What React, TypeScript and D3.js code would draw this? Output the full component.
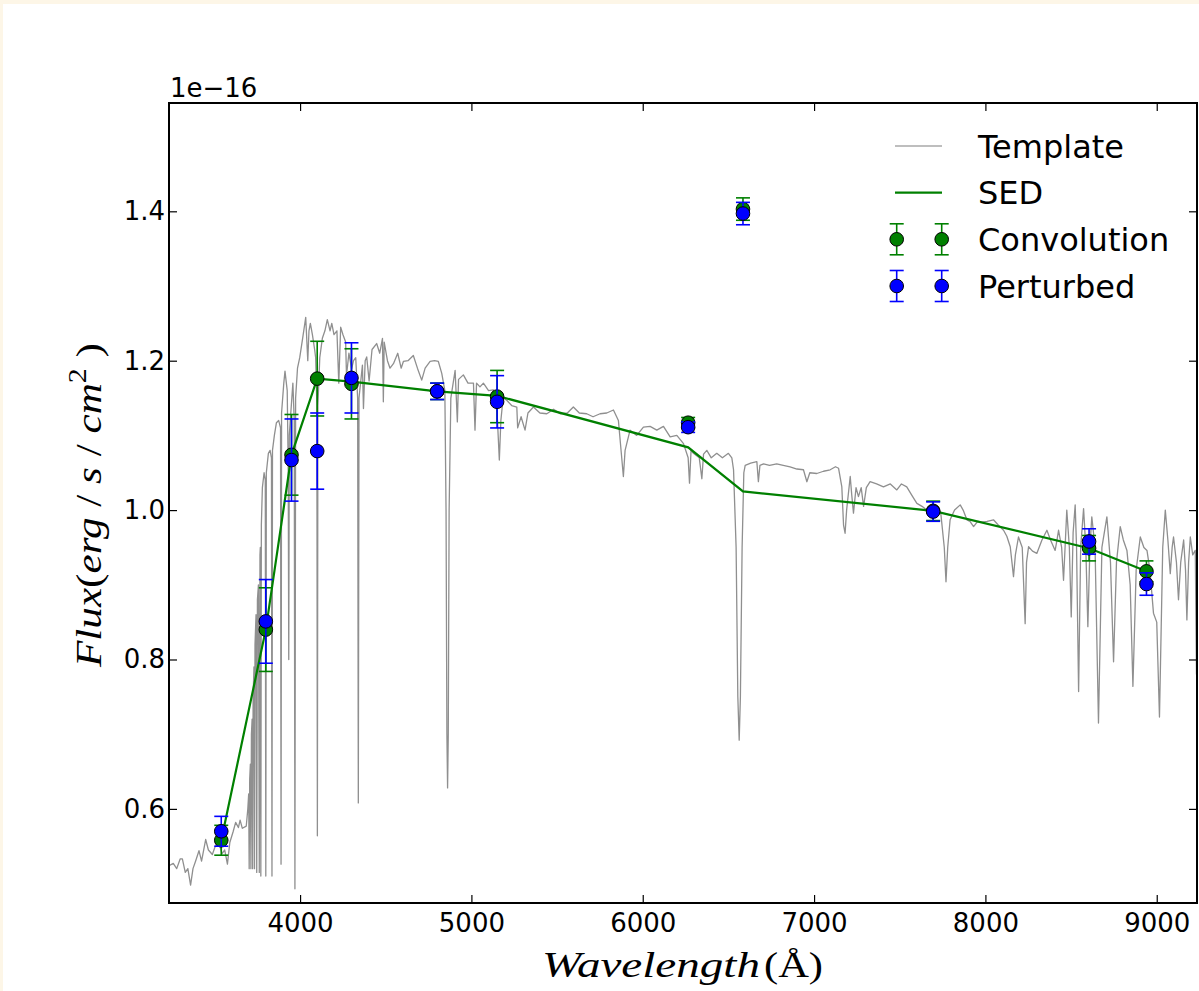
import { useEffect, useRef } from "react";
import * as d3 from "d3";

// template spectrum: [wavelength (Å), flux (1e-16)]
const template: [number, number][] = [
  [3235, 0.524], [3260, 0.527], [3280, 0.52], [3300, 0.533], [3313, 0.533], [3330, 0.515],
  [3345, 0.52], [3361, 0.498], [3375, 0.52], [3390, 0.53], [3410, 0.544], [3425, 0.53],
  [3449, 0.559], [3465, 0.545], [3488, 0.539], [3505, 0.55], [3527, 0.554], [3545, 0.54],
  [3560, 0.545], [3576, 0.526], [3590, 0.555], [3610, 0.57], [3624, 0.582], [3640, 0.575],
  [3650, 0.585], [3663, 0.574], [3686, 0.577], [3695, 0.6],
  [3700, 0.62], [3703, 0.52], [3706, 0.64], [3710, 0.66], [3713, 0.52], [3716, 0.7],
  [3720, 0.72], [3723, 0.52], [3726, 0.75], [3731, 0.79], [3734, 0.52], [3737, 0.82],
  [3743, 0.86], [3747, 0.515], [3751, 0.88], [3757, 0.9], [3762, 0.515], [3766, 0.94],
  [3768, 0.95], [3771, 0.51], [3774, 0.98], [3780, 1.03], [3790, 1.05], [3797, 1.04],
  [3800, 0.51], [3803, 1.05], [3815, 1.076], [3825, 1.08], [3833, 1.07], [3836, 0.51],
  [3839, 1.08], [3850, 1.1], [3862, 1.117], [3875, 1.12], [3886, 1.11], [3889, 0.526],
  [3892, 1.13], [3905, 1.17], [3912, 1.186], [3925, 1.16], [3931, 1.05], [3934, 0.8],
  [3937, 1.1], [3945, 1.127], [3958, 1.17], [3966, 1.12], [3970, 0.493], [3974, 1.15],
  [3985, 1.19], [3998, 1.204], [4015, 1.23], [4033, 1.258], [4045, 1.2], [4052, 1.24],
  [4060, 1.25], [4072, 1.235], [4085, 1.215], [4091, 1.204], [4098, 1.14], [4101, 0.564],
  [4104, 1.14], [4115, 1.204], [4130, 1.23], [4145, 1.24], [4159, 1.255], [4175, 1.24],
  [4185, 1.25], [4198, 1.235], [4215, 1.24], [4226, 1.17], [4237, 1.245], [4250, 1.235],
  [4266, 1.225], [4271, 1.18], [4285, 1.21], [4301, 1.189], [4312, 1.2], [4325, 1.204],
  [4336, 1.15], [4340, 0.608], [4344, 1.15], [4364, 1.194], [4370, 1.136], [4380, 1.2],
  [4389, 1.205], [4403, 1.173], [4420, 1.215], [4447, 1.223], [4465, 1.21], [4481, 1.23],
  [4486, 1.145], [4491, 1.225], [4510, 1.2], [4525, 1.19], [4545, 1.196], [4570, 1.21],
  [4590, 1.19], [4603, 1.199], [4630, 1.2], [4661, 1.207], [4685, 1.19], [4710, 1.174],
  [4730, 1.19], [4759, 1.199], [4785, 1.2], [4807, 1.199], [4827, 1.183], [4845, 1.16],
  [4852, 1.0], [4857, 0.7], [4861, 0.628], [4865, 0.7], [4870, 1.0], [4880, 1.15],
  [4905, 1.187], [4918, 1.118], [4925, 1.175], [4953, 1.181], [4980, 1.17], [5012, 1.17],
  [5021, 1.107], [5030, 1.17], [5050, 1.165], [5070, 1.17], [5100, 1.16], [5128, 1.161],
  [5150, 1.13], [5163, 1.067], [5172, 1.12], [5185, 1.15], [5206, 1.147], [5235, 1.14],
  [5265, 1.138], [5270, 1.11], [5290, 1.125], [5313, 1.107], [5330, 1.13], [5362, 1.138],
  [5400, 1.13], [5440, 1.129], [5480, 1.135], [5518, 1.129], [5560, 1.13], [5595, 1.138],
  [5630, 1.13], [5673, 1.129], [5710, 1.125], [5751, 1.129], [5790, 1.13], [5829, 1.134],
  [5858, 1.12], [5887, 1.045], [5897, 1.08], [5926, 1.107], [5965, 1.1], [6004, 1.111],
  [6043, 1.112], [6082, 1.107], [6121, 1.112], [6160, 1.098], [6199, 1.1], [6238, 1.089],
  [6265, 1.07], [6273, 1.036], [6282, 1.08], [6296, 1.076], [6330, 1.07], [6345, 1.042],
  [6355, 1.075], [6374, 1.08], [6400, 1.07], [6432, 1.076], [6465, 1.07], [6500, 1.076],
  [6520, 1.07], [6530, 1.054], [6545, 0.95], [6555, 0.75], [6563, 0.692], [6570, 0.75],
  [6580, 0.95], [6590, 1.05], [6598, 1.06], [6630, 1.063], [6666, 1.065], [6675, 1.038],
  [6684, 1.06], [6705, 1.062], [6740, 1.06], [6782, 1.062], [6820, 1.06], [6860, 1.058],
  [6900, 1.055], [6938, 1.054], [6958, 1.038], [6975, 1.05], [7016, 1.049], [7055, 1.052],
  [7094, 1.054], [7125, 1.058], [7143, 1.056], [7162, 1.031], [7172, 0.98], [7181, 0.969],
  [7190, 1.0], [7211, 1.045], [7220, 1.02], [7230, 0.996], [7245, 1.03], [7259, 1.018],
  [7275, 1.03], [7289, 1.005], [7305, 1.03], [7327, 1.038], [7365, 1.035], [7405, 1.031],
  [7445, 1.035], [7483, 1.027], [7510, 1.035], [7541, 1.031], [7570, 1.02], [7600, 1.009],
  [7630, 1.005], [7658, 1.0], [7690, 0.998], [7717, 0.996], [7740, 0.995], [7760, 0.95],
  [7770, 0.904], [7780, 0.95], [7794, 0.987], [7820, 1.0], [7853, 1.007], [7870, 1.0],
  [7892, 0.987], [7910, 0.985], [7931, 0.978], [7955, 0.985], [7979, 0.984], [8010, 0.985],
  [8047, 0.987], [8075, 0.98], [8106, 0.973], [8125, 0.965], [8145, 0.951], [8155, 0.93],
  [8164, 0.911], [8175, 0.94], [8193, 0.964], [8215, 0.95], [8232, 0.848], [8240, 0.93],
  [8252, 0.951], [8275, 0.945], [8300, 0.942], [8330, 0.96], [8359, 0.973], [8380, 0.96],
  [8407, 0.946], [8418, 0.96], [8427, 0.973], [8445, 0.95], [8456, 0.906], [8465, 0.95],
  [8475, 1.0], [8490, 0.95], [8501, 0.857], [8512, 0.97], [8524, 1.007], [8532, 0.95],
  [8544, 0.757], [8556, 0.95], [8573, 1.002], [8586, 0.95], [8598, 0.844], [8610, 0.95],
  [8621, 0.991], [8640, 0.95], [8660, 0.715], [8680, 0.95], [8709, 0.991], [8730, 0.93],
  [8748, 0.797], [8765, 0.93], [8787, 0.978], [8805, 0.96], [8826, 0.946], [8845, 0.9],
  [8861, 0.764], [8880, 0.92], [8904, 0.964], [8925, 0.95], [8943, 0.946], [8960, 0.92],
  [8981, 0.862], [9000, 0.85], [9016, 0.723], [9035, 0.95], [9050, 1.0], [9065, 0.96],
  [9079, 0.915], [9090, 0.95], [9098, 0.964], [9115, 0.93], [9127, 0.88], [9140, 0.93],
  [9157, 0.96], [9168, 0.92], [9176, 0.853], [9186, 0.93], [9196, 0.964], [9210, 0.94],
  [9225, 0.946], [9232, 0.78],
];

// photometric points
const filterWave = [3540, 3800, 3950, 4100, 4300, 4800, 5150, 6265, 6585, 7695, 8605, 8940];
const sedFlux = [0.558, 0.84, 1.074, 1.176, 1.172, 1.159, 1.153, 1.084, 1.025, 0.999, 0.949, 0.918];
const convFlux = [0.558, 0.84, 1.074, 1.176, 1.169, 1.159, 1.152, 1.117, 1.403, 0.999, 0.949, 0.918];
const convErr = [0.02, 0.056, 0.054, 0.05, 0.047, 0.011, 0.035, 0.007, 0.015, 0.013, 0.017, 0.014];
const pertFlux = [0.57, 0.851, 1.067, 1.079, 1.177, 1.159, 1.145, 1.111, 1.397, 0.998, 0.958, 0.901];
const pertErr = [0.02, 0.056, 0.055, 0.051, 0.047, 0.011, 0.035, 0.007, 0.015, 0.013, 0.017, 0.015];

const xTicks = [4000, 5000, 6000, 7000, 8000, 9000];
const yTicks = [0.6, 0.8, 1.0, 1.2, 1.4];
const legendLabels = ["Template", "SED", "Convolution", "Perturbed"];

function SedChart() {
  const ref = useRef<SVGSVGElement>(null);
  const width = 1199;
  const height = 991;
  const plot = { left: 169, right: 1197, top: 103, bottom: 903 };

  useEffect(() => {
    const svg = d3.select(ref.current);
    svg.selectAll("*").remove();

    const sans = "'DejaVu Sans', sans-serif";
    const serif = "'Liberation Serif', 'DejaVu Serif', serif";
    const green = "#008000";
    const blue = "#0000ff";
    const gray = "#8f8f8f";

    svg.append("rect").attr("width", width).attr("height", height).attr("fill", "#fdf6e7");
    svg.append("rect").attr("x", 3).attr("y", 4).attr("width", width).attr("height", height).attr("fill", "#fff");

    const x = d3.scaleLinear().domain([3235, 9235]).range([plot.left, plot.right]);
    const y = d3.scaleLinear().domain([0.474, 1.545]).range([plot.bottom, plot.top]);

    svg.append("clipPath").attr("id", "plot-area")
      .append("rect")
      .attr("x", plot.left).attr("y", plot.top)
      .attr("width", plot.right - plot.left).attr("height", plot.bottom - plot.top);

    const inner = svg.append("g").attr("clip-path", "url(#plot-area)");

    const line = d3.line<[number, number]>().x(d => x(d[0])).y(d => y(d[1]));

    inner.append("path")
      .datum(template)
      .attr("d", line)
      .attr("fill", "none")
      .attr("stroke", gray)
      .attr("stroke-width", 1.3)
      .attr("stroke-linejoin", "round");

    const sed = filterWave.map((w, i) => [w, sedFlux[i]] as [number, number]);
    inner.append("path")
      .datum(sed)
      .attr("d", line)
      .attr("fill", "none")
      .attr("stroke", green)
      .attr("stroke-width", 2.2);

    const drawErrorbars = (vals: number[], errs: number[], color: string) => {
      const pts = filterWave.map((w, i) => ({ w, v: vals[i], e: errs[i] }));
      const grp = inner.append("g");
      const bars = grp.selectAll("g").data(pts).join("g");
      bars.append("line")
        .attr("x1", d => x(d.w)).attr("x2", d => x(d.w))
        .attr("y1", d => y(d.v - d.e)).attr("y2", d => y(d.v + d.e))
        .attr("stroke", color).attr("stroke-width", 1.6);
      [-1, 1].forEach(s => {
        bars.append("line")
          .attr("x1", d => x(d.w) - 7).attr("x2", d => x(d.w) + 7)
          .attr("y1", d => y(d.v + s * d.e)).attr("y2", d => y(d.v + s * d.e))
          .attr("stroke", color).attr("stroke-width", 1.6);
      });
      grp.selectAll("circle").data(pts).join("circle")
        .attr("cx", d => x(d.w)).attr("cy", d => y(d.v))
        .attr("r", 6.8)
        .attr("fill", color).attr("stroke", "#000").attr("stroke-width", 1);
    };
    drawErrorbars(convFlux, convErr, green);
    drawErrorbars(pertFlux, pertErr, blue);

    // axes, ticks pointing inward on all four sides
    const styleAxis = (g: d3.Selection<SVGGElement, unknown, null, undefined>) => {
      g.select(".domain").remove();
      g.attr("font-size", 26).attr("font-family", sans);
      g.selectAll(".tick line").attr("stroke", "#000").attr("stroke-width", 1.2);
      g.selectAll(".tick text").attr("fill", "#000");
    };

    svg.append("g").attr("transform", `translate(0,${plot.bottom})`)
      .call(d3.axisBottom(x).tickValues(xTicks).tickSizeInner(-8).tickSizeOuter(0).tickPadding(11).tickFormat(d3.format("d")))
      .call(styleAxis);
    svg.append("g").attr("transform", `translate(0,${plot.top})`)
      .call(d3.axisTop(x).tickValues(xTicks).tickSizeInner(-8).tickSizeOuter(0).tickFormat(() => ""))
      .call(styleAxis);
    svg.append("g").attr("transform", `translate(${plot.left},0)`)
      .call(d3.axisLeft(y).tickValues(yTicks).tickSizeInner(-8).tickSizeOuter(0).tickPadding(4).tickFormat(d3.format(".1f")))
      .call(styleAxis);
    svg.append("g").attr("transform", `translate(${plot.right},0)`)
      .call(d3.axisRight(y).tickValues(yTicks).tickSizeInner(-8).tickSizeOuter(0).tickFormat(() => ""))
      .call(styleAxis);

    svg.append("rect")
      .attr("x", plot.left).attr("y", plot.top)
      .attr("width", plot.right - plot.left).attr("height", plot.bottom - plot.top)
      .attr("fill", "none").attr("stroke", "#000").attr("stroke-width", 2);

    svg.append("text")
      .attr("x", plot.left + 1).attr("y", 97)
      .attr("font-family", sans).attr("font-size", 26)
      .text("1e\u221216");

    // axis labels
    svg.append("text")
      .attr("x", 542).attr("y", 977)
      .attr("font-family", serif).attr("font-style", "italic").attr("font-size", 36)
      .attr("textLength", 218).attr("lengthAdjust", "spacingAndGlyphs")
      .text("Wavelength");
    svg.append("text")
      .attr("x", 764).attr("y", 977)
      .attr("font-family", serif).attr("font-size", 36)
      .attr("textLength", 59).attr("lengthAdjust", "spacingAndGlyphs")
      .text("(Å)");

    const ylab = svg.append("text")
      .attr("transform", "translate(101,667) rotate(-90)")
      .attr("font-family", serif).attr("font-size", 36)
      .attr("textLength", 324).attr("lengthAdjust", "spacingAndGlyphs");
    ylab.append("tspan").attr("font-style", "italic").text("Flux");
    ylab.append("tspan").text("(");
    ylab.append("tspan").attr("font-style", "italic").text("erg");
    ylab.append("tspan").text(" / ");
    ylab.append("tspan").attr("font-style", "italic").text("s");
    ylab.append("tspan").text(" / ");
    ylab.append("tspan").attr("font-style", "italic").text("cm");
    ylab.append("tspan").attr("font-size", 25).attr("dy", -15).text("2");
    ylab.append("tspan").attr("dy", 15).text(" )");

    // legend
    const legend = svg.append("g").attr("font-family", sans).attr("font-size", 32);
    const rowY = [146, 192.7, 239.3, 286];
    legend.append("line")
      .attr("x1", 895).attr("x2", 942).attr("y1", rowY[0]).attr("y2", rowY[0])
      .attr("stroke", "#a8a8a8").attr("stroke-width", 1.3);
    legend.append("line")
      .attr("x1", 895).attr("x2", 942).attr("y1", rowY[1]).attr("y2", rowY[1])
      .attr("stroke", green).attr("stroke-width", 2.2);
    [[rowY[2], green], [rowY[3], blue]].forEach(([ry, color]) => {
      [896.7, 941.7].forEach(cx => {
        const cy = ry as number;
        const c = color as string;
        legend.append("line").attr("x1", cx).attr("x2", cx).attr("y1", cy - 15.5).attr("y2", cy + 15.5)
          .attr("stroke", c).attr("stroke-width", 1.6);
        [-15.5, 15.5].forEach(o => {
          legend.append("line").attr("x1", cx - 7).attr("x2", cx + 7).attr("y1", cy + o).attr("y2", cy + o)
            .attr("stroke", c).attr("stroke-width", 1.6);
        });
        legend.append("circle").attr("cx", cx).attr("cy", cy).attr("r", 6.8)
          .attr("fill", c).attr("stroke", "#000").attr("stroke-width", 1);
      });
    });
    legend.selectAll("text").data(legendLabels).join("text")
      .attr("x", 978)
      .attr("y", (d, i) => rowY[i] + 11.5)
      .text(d => d);

    return () => {
      svg.selectAll("*").remove();
    };
  }, []);

  return (
    <svg
      ref={ref}
      width={width}
      height={height}
      style={{ position: "absolute", left: 0, top: 0, display: "block" }}
    />
  );
}

export default function App() {
  return <SedChart />;
}
